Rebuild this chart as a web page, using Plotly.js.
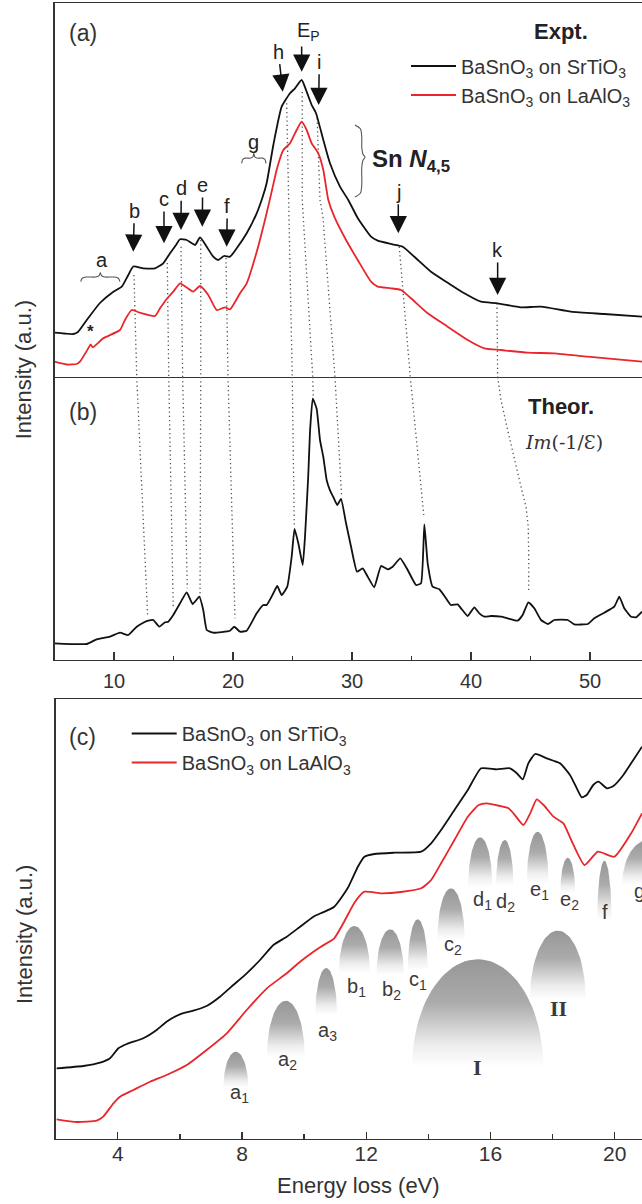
<!DOCTYPE html>
<html>
<head>
<meta charset="utf-8">
<script src="https://cdn.plot.ly/plotly-3.0.1.min.js"></script>
<style>html,body{margin:0;padding:0;background:#fff;}#chart{width:642px;height:1204px;}</style>
</head>
<body>
<div id="chart"></div>
<script>
// ---------------- DATA ----------------
// Panel (a): experimental low-loss spectra (energy in eV, intensity a.u.)
const aSrTiO3E = [5.00,5.80,6.58,6.97,7.71,8.82,9.92,10.65,11.20,11.62,12.46,13.45,14.14,14.71,15.21,15.55,16.11,16.81,17.23,17.79,18.34,18.76,19.24,19.75,20.31,21.15,21.99,22.49,22.83,23.39,24.09,24.79,25.21,25.77,26.19,26.61,26.97,27.59,28.15,28.99,29.69,30.48,31.60,32.16,33.42,34.26,35.24,36.64,38.04,39.44,40.84,42.24,44.20,45.88,48.40,51.20,54.37];
const aSrTiO3I = [44.3,43.5,43,45,57,74,85,90.3,102,110.5,108.7,108.7,113.7,123.7,132,137.7,137,132,139.7,130.3,120.3,117,121,120.3,128.7,143.7,163.7,180,194,232,270.3,283.7,288.7,297,285.3,272,264,237,213.7,190.3,177,159,140.3,136.3,132.7,130.3,120.3,105.3,94.3,83.7,75.3,73.7,69.7,70.3,65.3,63,60.3];
const aLaAlO3E = [5.00,6.03,6.87,7.14,7.84,8.04,8.21,9.10,10.50,10.92,11.49,12.18,13.45,13.87,14.43,14.98,15.55,16.11,16.66,17.23,17.92,18.63,19.33,19.75,20.59,21.15,21.99,22.83,23.28,23.71,24.23,24.79,25.35,25.77,26.19,26.61,27.17,27.59,28.01,28.51,29.50,30.48,31.60,32.16,33.28,34.12,34.96,36.36,38.04,39.72,41.12,42.52,44.76,47.00,49.81,54.37];
const aLaAlO3I = [15.3,12.5,13,15.3,28.7,32.7,29.7,38.7,47,57,67,64.3,61,68.7,78,85.3,93.7,89.5,85.3,91,82,67,69.7,67.7,83.7,93.7,125,164,187,209,227,233.7,247,255.3,247,233.7,223.7,207,177,160.3,137,117,95.3,90.3,88.7,87,78.7,63.7,50.3,37,28.7,27,24.3,23.7,20.3,15.3];

// Panel (b): theoretical loss function Im(-1/eps)
const bTheoryE = [5.00,7.71,8.55,9.66,10.50,11.20,11.91,12.46,12.88,13.30,13.81,14.29,14.56,14.98,15.55,16.11,16.61,17.17,17.50,17.79,18.34,19.75,20.11,20.59,21.15,21.99,22.55,22.83,23.39,23.72,24.09,24.56,24.93,25.17,25.49,25.86,26.05,26.33,26.47,26.70,27.03,27.31,27.59,27.87,28.15,28.43,28.76,29.08,29.50,29.92,30.42,30.90,31.32,31.87,32.44,33.00,33.42,34.06,34.68,35.38,35.80,36.08,36.36,36.78,37.34,37.90,38.32,38.88,39.16,39.72,40.28,40.70,41.12,41.68,42.52,43.08,43.92,44.34,44.82,45.32,45.88,46.45,47.00,48.13,48.68,49.81,50.36,51.20,52.04,52.46,52.88,53.45,53.87,54.37];
const bTheoryI = [16.7,16,20.7,23.3,27.3,25,33.3,37.3,39.3,40,33.3,37.7,38.3,45,56.7,67.7,56,63.3,50,30,27.3,29.3,33.3,28.3,29.3,46.7,55,55,66.7,74,65,73.3,103.3,131,116.7,95,123,186,228,261.3,251.3,220,203,180,169.7,163,155,161,136.7,113.3,88.3,91.7,83.3,72.7,94,90.7,93.3,101.7,90,75,76.7,135.7,96.7,73.3,70.7,61.7,55,55.7,51.7,44,52.7,46.7,43.3,44,43.3,41.7,39.3,45,57.7,51.7,40,36,40,40,35.7,36,41.7,47.3,53.3,63.3,51.7,43.3,42.7,48.3];

// Panel (c): expanded low-energy region
const cSrTiO3E = [2.03,2.89,3.43,3.75,4.02,4.29,4.82,5.25,5.57,6.00,6.43,6.86,7.29,7.72,8.15,8.58,9.01,9.44,9.87,10.30,10.54,10.97,11.40,11.73,11.94,12.26,12.91,13.77,14.09,14.41,14.84,15.27,15.70,16.20,16.63,16.85,17.04,17.22,17.44,17.81,18.24,18.56,18.78,18.94,19.10,19.31,19.48,19.75,19.96,20.28,20.60,20.88];
const cSrTiO3I = [70.7,73,76.3,80.7,90.7,95,100.7,109,117.3,124.7,128.3,133,142.3,154,165.7,179,194,202.3,212.3,222.3,225.7,232.3,250.7,272.3,282.3,285,286.3,287.3,295.7,309,329,349,370.7,369.7,370.7,365.7,359.7,375.7,385,380.7,375.7,364,350.7,341.7,344,354,357.3,350.7,353,364,379,392.3];
const cLaAlO3E = [2.03,2.68,3.32,3.53,3.86,4.07,4.50,5.04,5.57,6.22,6.86,7.51,8.15,8.80,9.44,9.87,10.30,10.54,10.97,11.29,11.62,11.94,12.48,13.12,13.77,14.09,14.41,14.84,15.27,15.62,15.88,16.31,16.58,16.74,17.06,17.28,17.49,17.71,18.03,18.35,18.60,19.03,19.46,19.99,20.53,20.88];
const cLaAlO3I = [19.7,17,18.3,22.3,35.7,42.3,49,57.3,64,74,89,105.7,129,150.7,165.7,177.3,187.3,192.3,200.7,217.3,236.3,247.3,245.7,247,250.7,259,275.7,299,322.3,334,335.7,333,330.7,325.7,314,325.7,339.7,334,322.3,315.7,299,274,287.3,282.3,305.7,325.7];

// Panel (c): fitted components (gray domes)
const domeNames   = ['a<sub>1</sub>','a<sub>2</sub>','a<sub>3</sub>','b<sub>1</sub>','b<sub>2</sub>','c<sub>1</sub>','c<sub>2</sub>','d<sub>1</sub>','d<sub>2</sub>','e<sub>1</sub>','e<sub>2</sub>','f','g','I','II'];
const domeCenter  = [7.80,9.41,10.71,11.62,12.77,13.66,14.73,15.67,16.46,17.52,18.49,19.67,21.08,15.59,18.17];
const domeHalfW   = [0.40,0.61,0.35,0.50,0.44,0.32,0.44,0.39,0.28,0.35,0.24,0.23,0.84,2.11,0.90];
const domeTop     = [87.3,138.3,171,213,209.7,219.7,250.7,301.7,299,307.3,281.3,278.3,299,179.7,208.3];
const domeBase    = [51,82,124,166,164,169,199,252,253,256,246,219,254,72.3,139];
const domeLabelE  = [7.91,9.45,10.74,11.70,12.80,13.66,14.79,15.75,16.50,17.57,18.54,19.69,20.81,15.59,18.19];
const domeLabelI  = [46,79,108,152,149,159,194,239,236.3,248.3,238.3,227.3,248,71.7,130.7];

// Panel (a): feature arrows (tip) with their labels (arrow tail side)
const arrowNames  = ['b','c','d','e','f','h','i','j','k'];
const arrowTipE   = [11.62,14.20,15.63,17.42,19.47,24.18,27.20,33.89,42.24];
const arrowTipI   = [125.3,133.7,147,150.3,130.3,285.3,272,143.7,82];
const arrowLabelE = [11.71,14.20,15.65,17.45,19.52,23.81,27.25,33.89,42.24];
const arrowLabelI = [166.3,178,188.7,192,171,325.3,315.3,185.3,127];
// plasmon arrow E_P
const epTipE = 25.77, epTipI = 305.3, epTailI = 332, epLabelE = 26.35, epLabelI = 345.3;

// Dotted guides linking (a) features to (b) peaks
const guideAE = [[11.68,11.91],[14.48,14.60],[15.63,15.77],[17.29,17.29],[19.41,19.58],[24.51,24.98],[25.82,25.82,26.70],[27.07,27.31,27.56,28.57],[33.97,34.90],[42.18,42.24]];
const guideAI = [[102,0],[114,0],[130.3,0],[137,0],[119,0],[273.7,0],[285,177,0],[258.7,177,160,0],[130.3,0],[73.7,0]];
const guideBE = [[11.91,12.83],[14.60,14.98],[15.77,16.16],[17.29,17.23],[19.58,20.17],[24.98,25.15],[26.70,26.75],[28.57,29.13],[34.90,36.03],[42.24,42.52,43.08,43.64,44.20,44.62,44.81,44.85,44.85]];
const guideBI = [[283,43.3],[283,51.7],[283,71.7],[283,63.3],[283,41.7],[283,133.3],[283,263],[283,163.3],[283,145],[283,260,230,200,173.3,153.3,133.3,103.3,68.3]];

// Braces
const hBraceX0 = [7.20,20.73], hBraceX1 = [10.50,22.77], hBraceBase = [95.3,213.7], hBracePeak = [104.3,223.7];
const vBraceTop = 252, vBraceBottom = 180, vBraceMid = 219.7, vBraceBaseE = 30.25, vBracePeakE = 31.09;

// ---------------- BUILD ----------------
const FONT = 'Liberation Sans, Arial, Helvetica, sans-serif';
const BLACK = '#111111', RED = '#e8262b', AX = '#333333';
const traces = [];

for (let k = 0; k < domeCenter.length; k++) {
  const xs = [], ys = [];
  for (let s = 0; s <= 48; s++) {
    const t = Math.PI * s / 48;
    xs.push(domeCenter[k] + domeHalfW[k] * Math.cos(t));
    ys.push(domeBase[k] + (domeTop[k] - domeBase[k]) * Math.sin(t));
  }
  traces.push({x: xs, y: ys, xaxis: 'x3', yaxis: 'y3', mode: 'lines', fill: 'toself',
    line: {width: 0, color: 'rgba(0,0,0,0)'},
    fillgradient: {type: 'vertical', colorscale: [[0,'#ffffff'],[0.2,'#ededed'],[0.6,'#ababab'],[1,'#979797']]},
    showlegend: false, hoverinfo: 'skip'});
}

// guides: one trace per panel, segments separated by gaps
function joinSegs(xsList, ysList) {
  const X = [], Y = [];
  for (let k = 0; k < xsList.length; k++) {
    if (k) { X.push(null); Y.push(null); }
    X.push(...xsList[k]); Y.push(...ysList[k]);
  }
  return {X, Y};
}
const guideStyle = {color: '#555555', width: 1.3, dash: '1.3px,3px'};
const gA = joinSegs(guideAE, guideAI), gB = joinSegs(guideBE, guideBI);
traces.push({x: gA.X, y: gA.Y, xaxis: 'x', yaxis: 'y', mode: 'lines', line: guideStyle, connectgaps: false, showlegend: false, hoverinfo: 'skip'});
traces.push({x: gB.X, y: gB.Y, xaxis: 'x2', yaxis: 'y2', mode: 'lines', line: guideStyle, connectgaps: false, showlegend: false, hoverinfo: 'skip'});

// braces
function hBrace(x0, x1, yb, yp) {
  const w = x1 - x0, h = yp - yb, m = (x0 + x1) / 2;
  return {x: [x0, x0 + 0.04*w, x0 + 0.14*w, m - 0.12*w, m - 0.03*w, m, m + 0.03*w, m + 0.12*w, x1 - 0.14*w, x1 - 0.04*w, x1],
          y: [yb, yb + 0.38*h, yb + 0.52*h, yb + 0.52*h, yb + 0.68*h, yp, yb + 0.68*h, yb + 0.52*h, yb + 0.52*h, yb + 0.38*h, yb]};
}
const bxs = [], bys = [];
for (let k = 0; k < hBraceX0.length; k++) {
  const b = hBrace(hBraceX0[k], hBraceX1[k], hBraceBase[k], hBracePeak[k]);
  bxs.push(b.x); bys.push(b.y);
}
(function(){
  const t = vBraceTop, b = vBraceBottom, m = vBraceMid, x0 = vBraceBaseE, w = vBracePeakE - vBraceBaseE;
  bxs.push([x0, x0 + 0.55*w, x0 + 0.68*w, x0 + 0.68*w, x0 + 0.8*w, x0 + w, x0 + 0.8*w, x0 + 0.68*w, x0 + 0.68*w, x0 + 0.55*w, x0]);
  bys.push([t, t - 4, t - 12, m + 10, m + 3, m, m - 3, m - 10, b + 12, b + 4, b]);
})();
const br = joinSegs(bxs, bys);
traces.push({x: br.X, y: br.Y, xaxis: 'x', yaxis: 'y', mode: 'lines', connectgaps: false,
  line: {color: '#555', width: 1.1, shape: 'spline', smoothing: 0.8}, showlegend: false, hoverinfo: 'skip'});

traces.push({x: aSrTiO3E, y: aSrTiO3I, xaxis: 'x', yaxis: 'y', mode: 'lines', name: 'BaSnO<sub>3</sub> on SrTiO<sub>3</sub>',
  line: {color: BLACK, width: 1.8, shape: 'spline', smoothing: 0.5}, legend: 'legend', hoverinfo: 'skip'});
traces.push({x: aLaAlO3E, y: aLaAlO3I, xaxis: 'x', yaxis: 'y', mode: 'lines', name: 'BaSnO<sub>3</sub> on LaAlO<sub>3</sub>',
  line: {color: RED, width: 1.8, shape: 'spline', smoothing: 0.5}, legend: 'legend', hoverinfo: 'skip'});
traces.push({x: bTheoryE, y: bTheoryI, xaxis: 'x2', yaxis: 'y2', mode: 'lines', name: 'Im(-1/ε)',
  line: {color: BLACK, width: 1.8, shape: 'spline', smoothing: 0.4}, showlegend: false, hoverinfo: 'skip'});
traces.push({x: cSrTiO3E, y: cSrTiO3I, xaxis: 'x3', yaxis: 'y3', mode: 'lines', name: 'BaSnO<sub>3</sub> on SrTiO<sub>3</sub>',
  line: {color: BLACK, width: 1.8, shape: 'spline', smoothing: 0.5}, legend: 'legend2', hoverinfo: 'skip'});
traces.push({x: cLaAlO3E, y: cLaAlO3I, xaxis: 'x3', yaxis: 'y3', mode: 'lines', name: 'BaSnO<sub>3</sub> on LaAlO<sub>3</sub>',
  line: {color: RED, width: 1.8, shape: 'spline', smoothing: 0.5}, legend: 'legend2', hoverinfo: 'skip'});

const ann = [];
function txt(x, y, text, xref, yref, size, opts) {
  ann.push(Object.assign({x: x, y: y, xref: xref, yref: yref, text: text, showarrow: false,
    xanchor: 'center', yanchor: 'middle',
    font: {family: FONT, size: size, color: '#222'}}, opts || {}));
}
const arrowBase = {showarrow: true, arrowhead: 2, arrowsize: 2.3, arrowwidth: 1.5, arrowcolor: '#111', standoff: 0,
  xref: 'x', yref: 'y', axref: 'x', ayref: 'y', font: {family: FONT, size: 20, color: '#222'}};
for (let k = 0; k < arrowNames.length; k++) {
  ann.push(Object.assign({}, arrowBase, {x: arrowTipE[k], y: arrowTipI[k], ax: arrowLabelE[k], ay: arrowLabelI[k], text: arrowNames[k]}));
}
ann.push(Object.assign({}, arrowBase, {x: epTipE, y: epTipI, ax: epTipE, ay: epTailI, text: ''}));
txt(epLabelE, epLabelI, 'E<sub>P</sub>', 'x', 'y', 20);
txt(8.97, 117, 'a', 'x', 'y', 20);
txt(21.76, 235.3, 'g', 'x', 'y', 20);
txt(8.04, 46, '*', 'x', 'y', 17, {font: {family: FONT, size: 17, color: '#222', weight: 'bold'}});
txt(31.55, 217, '<b>Sn <i>N</i><sub>4,5</sub></b>', 'x', 'y', 24, {xanchor: 'left'});
txt(7.37, 343.7, '(a)', 'x', 'y', 23, {font: {family: FONT, size: 23, color: '#333'}});
txt(47.56, 345.3, '<b>Expt.</b>', 'x', 'y', 22);
txt(7.37, 248.3, '(b)', 'x2', 'y2', 23, {font: {family: FONT, size: 23, color: '#333'}});
txt(47.56, 253.3, '<b>Theor.</b>', 'x2', 'y2', 22);
txt(44.4, 218.3, '<i>Im</i>(-1/Ɛ)', 'x2', 'y2', 19, {xanchor: 'left', font: {family: 'DejaVu Serif, Liberation Serif, serif', size: 19, color: '#333'}});
txt(2.86, 402.3, '(c)', 'x3', 'y3', 23, {font: {family: FONT, size: 23, color: '#333'}});
for (let k = 0; k < domeNames.length; k++) {
  const roman = (domeNames[k] === 'I' || domeNames[k] === 'II');
  txt(domeLabelE[k], domeLabelI[k], roman ? '<b>' + domeNames[k] + '</b>' : domeNames[k], 'x3', 'y3', roman ? 22 : 20,
    {font: {family: roman ? 'Liberation Serif, Times New Roman, serif' : FONT, size: roman ? 22 : 20, color: '#3a3a3a'}});
}
txt(23.3/642, 1 - 370/1204, 'Intensity (a.u.)', 'paper', 'paper', 22, {textangle: -90, font: {family: FONT, size: 22, color: '#333'}});
txt(25/642, 1 - 935/1204, 'Intensity (a.u.)', 'paper', 'paper', 22, {textangle: -90, font: {family: FONT, size: 22, color: '#333'}});
txt(358.5/642, 1 - 1185/1204, 'Energy loss (eV)', 'paper', 'paper', 22, {font: {family: FONT, size: 22, color: '#333'}});

const axBase = {showgrid: false, zeroline: false, showline: true, linecolor: AX, linewidth: 1.3, fixedrange: true};
const layout = {
  width: 642, height: 1204, margin: {l: 0, r: 0, t: 0, b: 0}, paper_bgcolor: '#fff', plot_bgcolor: '#fff',
  hovermode: false, font: {family: FONT, color: '#333'},
  xaxis: Object.assign({}, axBase, {domain: [54.5/642, 1], anchor: 'y', range: [5, 54.37], mirror: true, showticklabels: false, ticks: ''}),
  yaxis: Object.assign({}, axBase, {domain: [1 - 377/1204, 1 - 3/1204], anchor: 'x', range: [0, 374], showticklabels: false, ticks: ''}),
  xaxis2: Object.assign({}, axBase, {domain: [54.5/642, 1], anchor: 'y2', range: [5, 54.37], matches: 'x',
    ticks: 'inside', ticklen: 8, tickwidth: 1.3, tickcolor: AX, tick0: 0, dtick: 10, ticklabelstandoff: 3,
    tickfont: {family: FONT, size: 20, color: '#333'},
    minor: {ticks: 'inside', dtick: 5, tick0: 0, ticklen: 4.5, tickwidth: 1.3, tickcolor: AX}}),
  yaxis2: Object.assign({}, axBase, {domain: [1 - 660/1204, 1 - 377/1204], anchor: 'x2', range: [0, 283], showticklabels: false, ticks: ''}),
  xaxis3: Object.assign({}, axBase, {domain: [55.7/642, 1], anchor: 'y3', range: [2, 20.88], mirror: true,
    ticks: 'inside', ticklen: 7, tickwidth: 1.3, tickcolor: AX, tick0: 0, dtick: 4, ticklabelstandoff: -5,
    tickfont: {family: FONT, size: 21, color: '#333'},
    minor: {ticks: 'inside', dtick: 2, tick0: 0, ticklen: 5, tickwidth: 1.3, tickcolor: AX}}),
  yaxis3: Object.assign({}, axBase, {domain: [1 - 1139/1204, 1 - 699/1204], anchor: 'x3', range: [0, 440], showticklabels: false, ticks: ''}),
  legend: {x: 406/642, y: 1 - 46.5/1204, xanchor: 'left', yanchor: 'top', bgcolor: 'rgba(0,0,0,0)', borderwidth: 0,
    itemwidth: 45, font: {family: FONT, size: 20, color: '#333'}, tracegroupgap: 0},
  legend2: {x: 126.7/642, y: 1 - 714/1204, xanchor: 'left', yanchor: 'top', bgcolor: 'rgba(0,0,0,0)', borderwidth: 0,
    itemwidth: 45, font: {family: FONT, size: 20, color: '#333'}, tracegroupgap: 0},
  annotations: ann
};
Plotly.newPlot('chart', traces, layout, {displayModeBar: false, staticPlot: true});
</script>
</body>
</html>
